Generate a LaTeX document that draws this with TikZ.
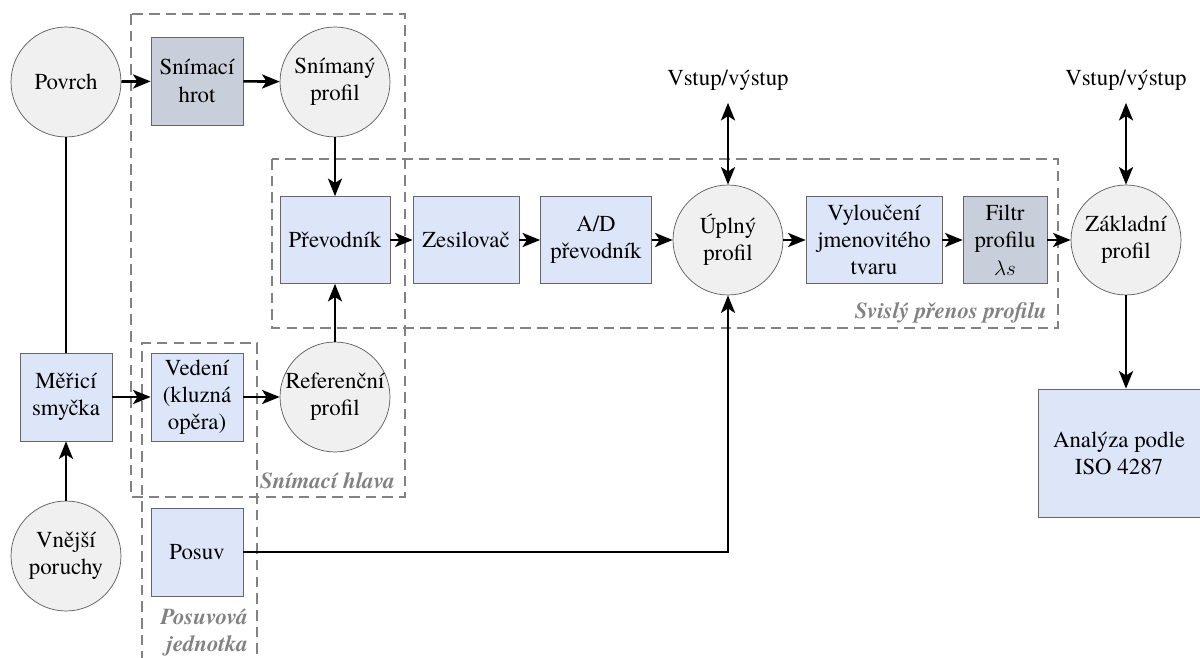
\documentclass[tikz,border=0pt]{standalone}
\usepackage{fontspec}
\setmainfont{texgyretermes}[Extension=.otf, UprightFont=*-regular, BoldFont=*-bold, ItalicFont=*-italic, BoldItalicFont=*-bolditalic]
\usetikzlibrary{arrows.meta}
\usepackage{xcolor}
\definecolor{modra}{RGB}{220,230,248}
\definecolor{seda}{RGB}{200,206,218}
\definecolor{svetla}{RGB}{240,240,240}
\definecolor{ramova}{RGB}{130,130,130}

\begin{document}
\begin{tikzpicture}[x=0.02cm, y=-0.02cm,
		font=\fontsize{13}{15.5}\selectfont,
		blok/.style={draw=black!60, fill=modra, align=center, inner sep=0pt, minimum width=1.84cm, minimum height=1.76cm},
		kruh/.style={circle, draw=black!65, fill=svetla, align=center, inner sep=0pt, minimum size=2.2cm},
		sip/.style={-{Stealth[length=10pt, width=8pt, inset=2.5pt]}, line width=1.5pt},
		dvojsip/.style={{Stealth[length=10pt, width=8pt, inset=2.5pt]}-{Stealth[length=10pt, width=8pt, inset=2.5pt]}, line width=1.5pt},
		ramec/.style={draw=ramova, dash pattern=on 6pt off 3.5pt, line width=1.1pt},
		popis/.style={text=ramova, font=\fontsize{13}{15.5}\selectfont\bfseries\itshape, inner sep=1pt}]
		\useasboundingbox (0,0) rectangle (1200,658);
		% dashed frames
		\draw[ramec] (131,14) rectangle (405,497);
		\draw[ramec] (272,159) rectangle (1058,328);
		\draw[ramec] (142,662) -- (142,343) -- (257,343) -- (257,662);
		\node[popis, anchor=east] (hlava) at (397,481) {Snímací hlava};
		\node[popis, anchor=east] (svisly) at (1049,313) {Svislý přenos profilu};
		\node[popis, align=right, anchor=north east] (jednotka) at (250,607) {Posuvová\\jednotka};
		% top row
		\node[kruh] (povrch) at (66,82) {Povrch};
		\node[blok, fill=seda] (hrot) at (197,81) {Snímací\\hrot};
		\node[kruh] (snimany) at (335,82) {Snímaný\\profil};
		% signal chain
		\node[blok, minimum width=2.2cm, minimum height=1.74cm] (prevodnik) at (335,240) {Převodník};
		\node[blok, minimum width=2.12cm, minimum height=1.74cm] (zesilovac) at (466,240) {Zesilovač};
		\node[blok, minimum width=2.22cm, minimum height=1.74cm] (ad) at (596,240) {A/D\\převodník};
		\node[kruh] (uplny) at (728,240) {Úplný\\profil};
		\node[blok, minimum width=2.72cm, minimum height=1.74cm] (vylouceni) at (874,240) {Vyloučení\\jmenovitého\\tvaru};
		\node[blok, fill=seda, minimum width=1.68cm, minimum height=1.74cm] (filtr) at (1005,240) {Filtr\\profilu\\$\lambda s$};
		\node[kruh] (zakladni) at (1126,240) {Základní\\profil};
		\node[inner sep=7pt] (io1) at (728,80) {Vstup/výstup};
		\node[inner sep=7pt] (io2) at (1126,80) {Vstup/výstup};
		\node[blok, minimum width=3.24cm, minimum height=2.56cm] (analyza) at (1119,453) {Analýza podle\\ISO 4287};
		% lower left
		\node[blok] (smycka) at (66,397) {Měřicí\\smyčka};
		\node[blok] (vedeni) at (197,397) {Vedení\\(kluzná\\opěra)};
		\node[kruh] (referencni) at (335,397) {Referenční\\profil};
		\node[kruh] (vnejsi) at (66,556) {Vnější\\poruchy};
		\node[blok] (posuv) at (197,552) {Posuv};
		% connections
		\draw[sip] (povrch) -- (hrot);
		\draw[sip] (hrot) -- (snimany);
		\draw[sip] (snimany) -- (prevodnik);
		\draw[sip] (referencni) -- (prevodnik);
		\draw[sip] (prevodnik) -- (zesilovac);
		\draw[sip] (zesilovac) -- (ad);
		\draw[sip] (ad) -- (uplny);
		\draw[sip] (uplny) -- (vylouceni);
		\draw[sip] (vylouceni) -- (filtr);
		\draw[sip] (filtr) -- (zakladni);
		\draw[dvojsip] (io1) -- (uplny);
		\draw[dvojsip] (io2) -- (zakladni);
		\draw[sip] (zakladni) -- (zakladni |- analyza.north);
		\draw[line width=1.5pt] (povrch) -- (smycka);
		\draw[sip] (vnejsi) -- (smycka);
		\draw[sip] (smycka) -- (vedeni);
		\draw[sip] (vedeni) -- (referencni);
		\draw[sip] (posuv) -| (uplny);
	\end{tikzpicture}
\end{document}
